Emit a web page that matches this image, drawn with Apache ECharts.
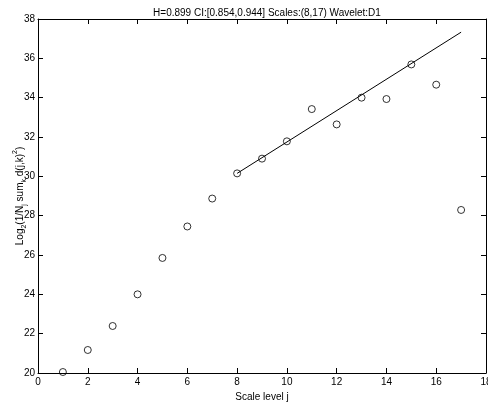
<!DOCTYPE html>
<html><head><meta charset="utf-8">
<script src="https://cdn.jsdelivr.net/npm/echarts@6/dist/echarts.min.js"></script>
<style>html,body{margin:0;padding:0;background:#fff}#c{width:488px;height:406px}</style>
</head><body><div id="c"></div>
<script>
var scales = [1,2,3,4,5,6,7,8,9,10,11,12,13,14,15,16,17];
var logEnergy = [20.05,21.17,22.39,24.0,25.85,27.45,28.87,30.15,30.9,31.78,33.42,32.64,34.0,33.93,35.69,34.66,28.29];
var fitX = [8,17];
var fitY = [30.15,37.33];
var titleText = 'H=0.899 CI:[0.854,0.944] Scales:(8,17) Wavelet:D1';

var F = 'Liberation Sans, Arial, Helvetica, sans-serif';
var chart = echarts.init(document.getElementById('c'));
var axisCommon = {
  axisLine:{show:true,onZero:false,lineStyle:{color:'#000',width:1}},
  axisTick:{show:true,inside:true,length:5,lineStyle:{color:'#000'}},
  splitLine:{show:false}
};
chart.setOption({
  animation:false,
  backgroundColor:'#fff',
  title:{text:titleText,left:262,top:3,textAlign:'center',textStyle:{fontFamily:F,fontSize:10,fontWeight:'normal',color:'#000'}},
  grid:{left:38,right:2,top:19,bottom:33,containLabel:false,outerBoundsMode:'none'},
  xAxis:[
    Object.assign({type:'value',min:0,max:18,interval:2,position:'bottom',
      name:'Scale level j',nameLocation:'middle',nameGap:17,
      nameTextStyle:{fontFamily:F,fontSize:10,color:'#000'},
      axisLabel:{fontFamily:F,fontSize:10,color:'#000',margin:4,showMaxLabel:true}},axisCommon),
    Object.assign({type:'value',min:0,max:18,interval:2,position:'top',axisLabel:{show:false}},axisCommon)
  ],
  yAxis:[
    Object.assign({type:'value',min:20,max:38,interval:2,position:'left',
      name:'{n|Log}{s|2}{n|(1/N}{s|j}{n| sum}{s|k}{n| d(j,k)}{p|2}{n|)}',
      nameLocation:'middle',nameGap:9,nameRotate:90,nameMoveOverlap:false,
      nameTextStyle:{fontFamily:F,fontSize:10,color:'#000',
        rich:{
          n:{fontFamily:F,fontSize:10,color:'#000',lineHeight:18,verticalAlign:'middle'},
          s:{fontFamily:F,fontSize:7,color:'#000',lineHeight:18,verticalAlign:'bottom',padding:[0,0,1,0]},
          p:{fontFamily:F,fontSize:7,color:'#000',lineHeight:18,verticalAlign:'top',padding:[1,0,0,0]}
        }},
      axisLabel:{fontFamily:F,fontSize:10,color:'#000',margin:3}},axisCommon),
    Object.assign({type:'value',min:20,max:38,interval:2,position:'right',axisLabel:{show:false}},axisCommon)
  ],
  series:[
    {type:'line',data:fitX.map(function(x,i){return [x,fitY[i]];}),showSymbol:false,symbol:'none',
      lineStyle:{color:'#000',width:1},silent:true,z:2},
    {type:'scatter',data:scales.map(function(x,i){return [x,logEnergy[i]];}),symbol:'circle',symbolSize:7,
      itemStyle:{color:'rgba(255,255,255,0)',borderColor:'#000',borderWidth:1},clip:false,z:3}
  ]
});
</script></body></html>
